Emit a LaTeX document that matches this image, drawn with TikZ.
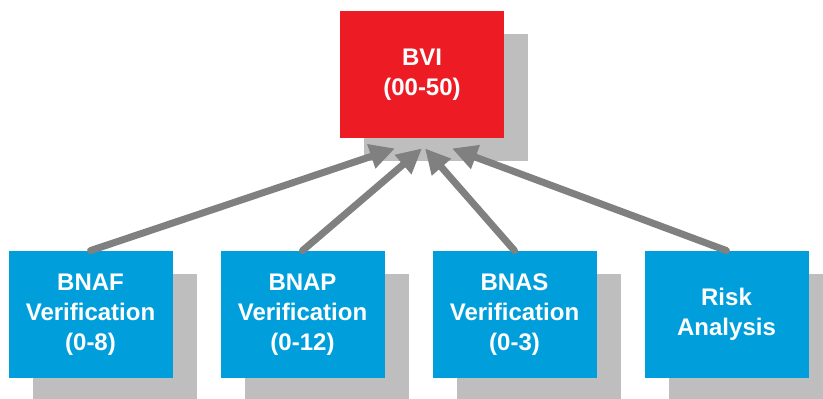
\documentclass[tikz,border=0pt]{standalone}
\usepackage{fontspec}
\setmainfont{Liberation Sans}
\usetikzlibrary{arrows.meta,shadows,positioning}
\definecolor{bvired}{RGB}{237,28,36}
\definecolor{boxblue}{RGB}{0,159,220}
\definecolor{shadowgray}{RGB}{190,190,190}
\definecolor{linkgray}{RGB}{128,128,128}
\begin{document}
\begin{tikzpicture}[x=0.5pt, y=-0.5pt
    , cell/.style = {rectangle,fill=boxblue,minimum width=82pt,minimum height=63.5pt,inner sep=0pt,
        align=center,text=white,font=\fontsize{12}{15}\selectfont\bfseries,
        drop shadow={shadow xshift=12pt,shadow yshift=-11.5pt,fill=shadowgray,opacity=1}}
    , link/.style = {draw=linkgray,line width=3.5pt,line cap=round,-{Triangle[length=12.5pt,width=12pt]}}
]
\useasboundingbox (0,0) rectangle (823,398);
\node[cell,fill=bvired] (bvi) at (422,74.5) {BVI\\(00-50)};
\foreach \n/\txt [count=\j from 0] in {bnaf/{BNAF\\Verification\\(0-8)}, bnap/{BNAP\\Verification\\(0-12)},
        bnas/{BNAS\\Verification\\(0-3)}, risk/{Risk\\Analysis}}
    \node[cell] (\n) at (90.5+212*\j, 314.5) {\txt};
\foreach \n/\dx in {bnaf/-13.5, bnap/0, bnas/1.5, risk/15}
    \draw[link] (\n.north) -- ([xshift=\dx pt,yshift=-5pt]bvi.south);
\end{tikzpicture}
\end{document}
